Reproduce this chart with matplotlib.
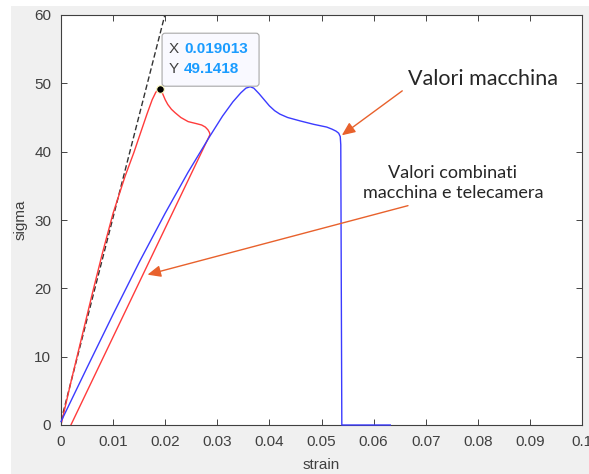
import matplotlib
matplotlib.use('Agg')
import matplotlib.pyplot as plt
import matplotlib.transforms as mtransforms
from matplotlib.patches import FancyBboxPatch, Rectangle

# combined machine + camera values (red), ends on the unloading line
red_strain = [0, 0.002, 0.004, 0.006, 0.0079, 0.0100, 0.0123, 0.0140, 0.0152, 0.0165,
              0.0175, 0.0182, 0.0187, 0.019013, 0.0195, 0.0200, 0.0205, 0.0212, 0.0219,
              0.0230, 0.0244, 0.0260, 0.0270, 0.0277, 0.0282, 0.0285, 0.0286, 0.0019]
red_sigma = [0, 6.6, 12.9, 19.2, 25.0, 31.0, 36.4, 39.9, 42.6, 45.5,
             47.6, 48.7, 49.1, 49.1418, 48.5, 47.6, 46.9, 46.2, 45.7,
             45.0, 44.4, 44.1, 43.9, 43.6, 43.2, 42.8, 42.5, 0]

# machine values (blue)
blue_strain = [0, 0.005, 0.010, 0.015, 0.020, 0.0244, 0.0286, 0.0310, 0.0330, 0.0345,
               0.0355, 0.0363, 0.0370, 0.0380, 0.0390, 0.0400, 0.0410, 0.0420, 0.0435,
               0.0459, 0.0485, 0.0510, 0.0520, 0.0528, 0.0533, 0.0536, 0.0537, 0.0538,
               0.0539, 0.0632]
blue_sigma = [0.5, 8.4, 16.2, 23.8, 31.0, 37.0, 42.3, 45.2, 47.3, 48.6,
              49.3, 49.5, 49.3, 48.5, 47.6, 46.7, 46.0, 45.5, 45.0,
              44.5, 44.0, 43.6, 43.3, 43.0, 42.7, 42.2, 41.0, 20.0,
              0, 0]

# elastic slope (dashed)
slope_strain = [0, 0.0200]
slope_sigma = [0.6, 60.2]

peak_x = 0.019013
peak_y = 49.1418

xticks = [0, 0.01, 0.02, 0.03, 0.04, 0.05, 0.06, 0.07, 0.08, 0.09, 0.1]
xtick_labels = ['0', '0.01', '0.02', '0.03', '0.04', '0.05', '0.06', '0.07', '0.08', '0.09', '0.1']
yticks = [0, 10, 20, 30, 40, 50, 60]

W, H = 589, 474
fig = plt.figure(figsize=(W / 100, H / 100), dpi=100, facecolor='white')
fig.add_artist(Rectangle((11 / W, 0), 1, 1 - 6 / H, transform=fig.transFigure,
                         facecolor='#f0f0f0', edgecolor='none', zorder=0))

ax = fig.add_axes([61 / W, 49 / H, 521 / W, 410 / H])
ax.set_facecolor('white')
ax.set_xlim(0, 0.1)
ax.set_ylim(0, 60)

txtc = '#262626'
plt.rcParams['font.family'] = 'Liberation Sans'

ax.plot(slope_strain, slope_sigma, '--', color='#333333', lw=1.0, dashes=(4, 2))
ax.plot(red_strain, red_sigma, color='#ff3b3b', lw=1.0, solid_joinstyle='round')
ax.plot(blue_strain, blue_sigma, color='#3b3bff', lw=1.0, zorder=3, clip_on=False,
        solid_joinstyle='round')
ax.plot([peak_x], [peak_y], 'o', color='black', markeredgecolor='#fffcc0',
        markersize=5.5, markeredgewidth=0.8, zorder=5)

ax.set_xticks(xticks)
ax.set_xticklabels(xtick_labels)
ax.set_yticks(yticks)
ax.tick_params(direction='in', length=4, width=0.6, top=True, right=True, pad=7,
               labelsize=11, colors=txtc, labeltop=False, labelright=False)
for tl in ax.get_xticklabels() + ax.get_yticklabels():
    tl.set_family('Liberation Sans')
    tl.set_color('#404040')
for sp in ax.spines.values():
    sp.set_color('#404040')
    sp.set_linewidth(0.8)

ax.set_xlabel('strain', fontsize=11, color='#404040', family='Liberation Sans', labelpad=7)
ax.set_ylabel('sigma', fontsize=11, color='#404040', family='Liberation Sans', labelpad=5)

# datatip
fig.canvas.draw()
px0, py0 = ax.transData.transform((peak_x, peak_y))
tip = mtransforms.Affine2D().translate(px0, py0)
box = FancyBboxPatch((2, 3), 97, 53, boxstyle='round,pad=0,rounding_size=3',
                     facecolor='#f9f9ff', edgecolor='#a8a8a8', lw=0.8,
                     transform=tip, zorder=6)
fig.add_artist(box)
for dy, lab, val in [(40, 'X', '0.019013'), (20, 'Y', '49.1418')]:
    fig.text(0, 0, lab, transform=tip + mtransforms.Affine2D().translate(9, dy),
             fontsize=11, color='#404040', va='center', ha='left',
             family='Liberation Sans', zorder=7)
    fig.text(0, 0, val, transform=tip + mtransforms.Affine2D().translate(24, dy),
             fontsize=11, color='#1a9cff', fontweight='bold', va='center', ha='left',
             family='Liberation Sans', zorder=7)

# annotations
arrow_c = '#e8612c'
head = '-|>,head_length=0.8,head_width=0.35'
ax.annotate('', xy=(0.0539, 42.4), xytext=(0.0655, 48.9),
            arrowprops=dict(arrowstyle=head, color=arrow_c, lw=1.0, shrinkA=0, shrinkB=0))
ax.annotate('', xy=(0.0166, 22.0), xytext=(0.0666, 32.1),
            arrowprops=dict(arrowstyle=head, color=arrow_c, lw=1.0, shrinkA=0, shrinkB=0))
ax.text(0.0666, 50.6, 'Valori macchina', fontsize=15.5, family='Lato',
        color=txtc, va='center', ha='left')
ax.text(0.0752, 35.4, 'Valori combinati\nmacchina e telecamera', fontsize=13,
        family='Lato', color=txtc, va='center', ha='center', linespacing=1.35)

fig.savefig('out.png', dpi=100, facecolor=fig.get_facecolor())
